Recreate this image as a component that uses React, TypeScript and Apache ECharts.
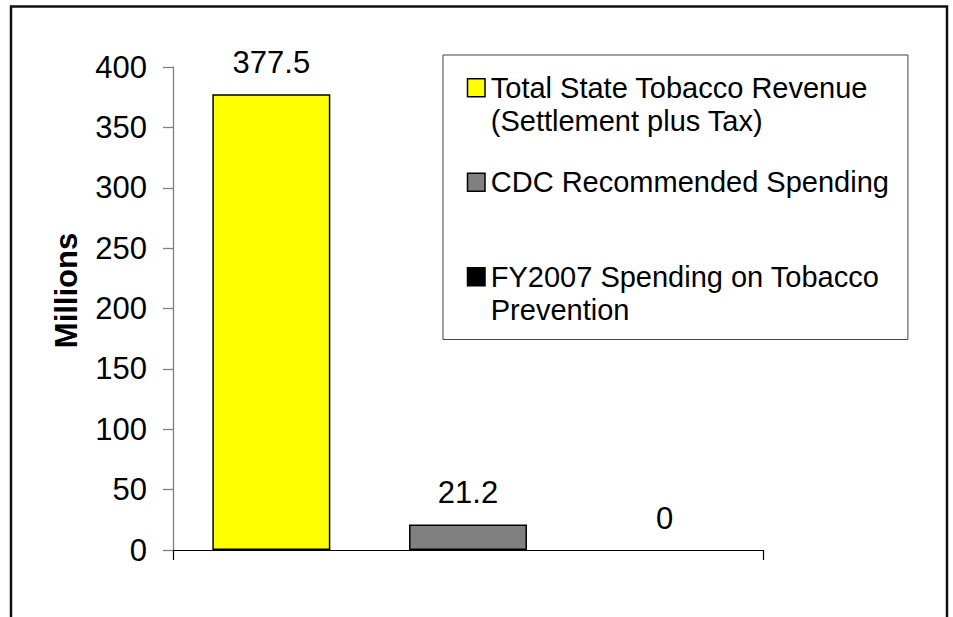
import React, { useEffect, useRef } from "react";
import * as echarts from "echarts";

const categories = ["Revenue", "CDC", "FY2007"];
const seriesNames = [
  "Total State Tobacco Revenue (Settlement plus Tax)",
  "CDC Recommended Spending",
  "FY2007 Spending on Tobacco Prevention",
];
const legendLabels = [
  "Total State Tobacco Revenue\n(Settlement plus Tax)",
  "CDC Recommended Spending\n",
  "FY2007 Spending on Tobacco\nPrevention",
];
const values = [377.5, 21.2, 0];
const colors = ["#FFFF00", "#808080", "#000000"];
const yTicks = { min: 0, max: 400, interval: 50 };
const axisTitle = "Millions";

const FONT = "'Liberation Sans', Arial, Helvetica, sans-serif";

export default function App() {
  const ref = useRef<HTMLDivElement>(null);
  useEffect(() => {
    if (!ref.current) return;
    const chart = echarts.init(ref.current, undefined, { renderer: "svg" });
    const series = seriesNames.map((name, i) => ({
      name,
      type: "bar",
      stack: "all",
      barCategoryGap: "40%",
      data: categories.map((_, j) =>
        j === i
          ? { value: values[i], itemStyle: values[i] === 0 ? { borderWidth: 0 } : undefined }
          : "-"
      ),
      itemStyle: { color: colors[i], borderColor: "#000", borderWidth: 1.5 },
      label: {
        show: true,
        position: "top",
        distance: 16,
        color: "#000",
        fontSize: 31,
        fontFamily: FONT,
        formatter: (p: any) => String(p.value),
      },
    }));
    chart.setOption({
      animation: false,
      backgroundColor: "#fff",
      textStyle: { fontFamily: FONT },
      graphic: [
        {
          type: "rect",
          shape: { x: 11, y: 6.5, width: 936, height: 700 },
          style: { fill: "none", stroke: "#111", lineWidth: 2.5 },
          silent: true,
        },
      ],
      grid: { left: 173, right: 190, top: 67, bottom: 67 },
      legend: {
        orient: "vertical",
        left: 443,
        top: 55,
        padding: [15.5, 19, 12.5, 23],
        itemWidth: 19,
        itemHeight: 66,
        itemGap: 27,
        textGap: 5,
        selectedMode: false,
        borderColor: "#444",
        borderWidth: 1,
        backgroundColor: "#fff",
        icon: "path://M0,0L0,0M0.75,7.5H18.25V25.5H0.75ZM19,66L19,66",
        itemStyle: { borderColor: "#000", borderWidth: 1.5 },
        textStyle: { color: "#000", fontSize: 29, lineHeight: 33, fontFamily: FONT },
        data: seriesNames,
        formatter: (name: string) => legendLabels[seriesNames.indexOf(name)],
      },
      xAxis: {
        type: "category",
        data: categories,
        axisLine: { show: true, lineStyle: { color: "#000", width: 1.2 } },
        axisTick: { show: true, length: 10, interval: (i: number) => i === 0, lineStyle: { color: "#000", width: 1.2 } },
        axisLabel: { show: false },
        splitLine: { show: false },
      },
      yAxis: {
        type: "value",
        min: yTicks.min,
        max: yTicks.max,
        interval: yTicks.interval,
        name: axisTitle,
        nameLocation: "middle",
        nameRotate: 90,
        nameGap: 91,
        nameTextStyle: {
          color: "#000",
          fontSize: 31,
          fontWeight: "bold",
          fontFamily: FONT,
          padding: [0, 0, 0, 36],
        },
        axisLine: { show: true, lineStyle: { color: "#808080", width: 1.3 } },
        axisTick: { show: true, length: 10, lineStyle: { color: "#808080", width: 1.3 } },
        axisLabel: { color: "#000", fontSize: 31, margin: 26, fontFamily: FONT },
        splitLine: { show: false },
      },
      series,
    });
    return () => chart.dispose();
  }, []);
  return (
    <div
      ref={ref}
      style={{ position: "fixed", left: 0, top: 0, width: 953, height: 617, background: "#fff" }}
    />
  );
}
